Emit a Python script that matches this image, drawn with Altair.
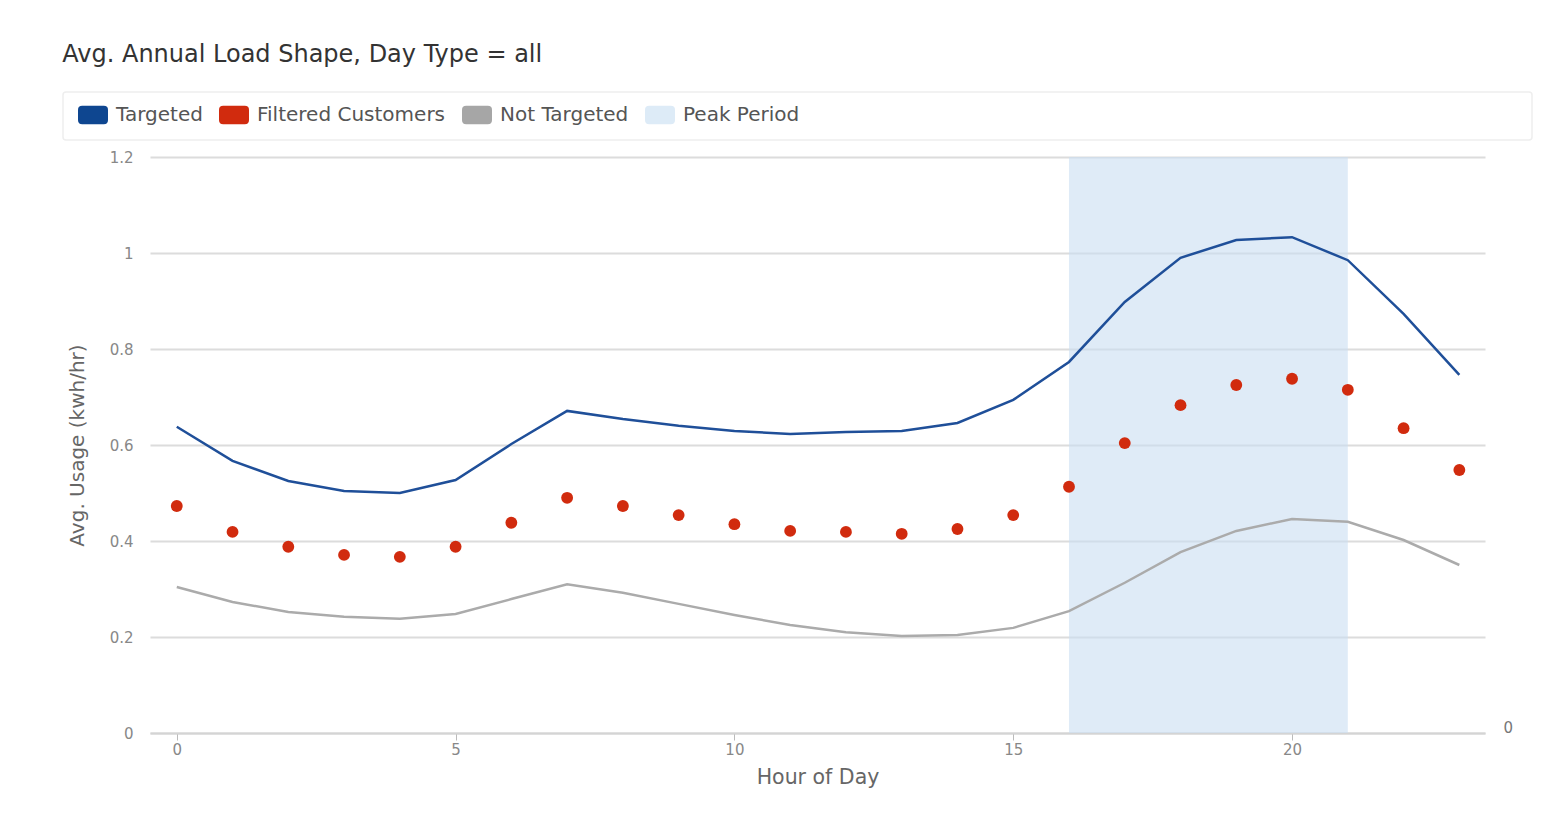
import altair as alt
import pandas as pd

hours = list(range(24))
targeted = [0.638, 0.567, 0.525, 0.504, 0.500, 0.527, 0.602, 0.671, 0.654, 0.640, 0.629, 0.623,
            0.627, 0.629, 0.646, 0.694, 0.773, 0.898, 0.990, 1.027, 1.033, 0.985, 0.873, 0.746]
filtered = [0.473, 0.419, 0.388, 0.371, 0.367, 0.388, 0.438, 0.490, 0.473, 0.454, 0.435, 0.421,
            0.419, 0.415, 0.425, 0.454, 0.513, 0.604, 0.683, 0.725, 0.738, 0.715, 0.635, 0.548]
not_targeted = [0.304, 0.273, 0.252, 0.242, 0.238, 0.248, 0.279, 0.310, 0.292, 0.269, 0.246, 0.225,
                0.210, 0.202, 0.204, 0.219, 0.254, 0.313, 0.377, 0.421, 0.446, 0.440, 0.402, 0.350]
peak_start = [16]
peak_end = [21]
series_names = ["Targeted", "Filtered Customers", "Not Targeted", "Peak Period"]
series_colors = ["#0E4690", "#D12B0E", "#A6A6A6", "#DDEBF7"]
x_ticks = [0, 5, 10, 15, 20]
y_ticks = [0, 0.2, 0.4, 0.6, 0.8, 1.0, 1.2]

FONT = "DejaVu Sans"

df = pd.DataFrame({"hour": hours, "targeted": targeted, "filtered": filtered,
                   "not_targeted": not_targeted})
peak_df = pd.DataFrame({"start": peak_start, "end": peak_end})
legend_df = pd.DataFrame({"series": series_names})
one_df = pd.DataFrame({"r": [0]})

x_scale = alt.Scale(domain=[-0.48, 23.46], nice=False, zero=False)
y_scale = alt.Scale(domain=[0, 1.2], nice=False)

x_axis = alt.Axis(values=x_ticks, title="Hour of Day", grid=False, domainColor="#D4D4D4",
                  domainWidth=2, tickColor="#BBBBBB", tickSize=7, labelFontSize=15,
                  labelColor="#888888", labelFont=FONT, labelPadding=2, titleFont=FONT,
                  titleFontSize=20.5, titleColor="#666666", titleFontWeight="normal",
                  titlePadding=10)
y_axis = alt.Axis(values=y_ticks, title="Avg. Usage (kwh/hr)", grid=True, gridColor="#DCDCDC",
                  gridWidth=2, domain=False, ticks=False, labelFontSize=15, labelColor="#888888",
                  labelFont=FONT, labelPadding=17, titleFont=FONT, titleFontSize=20,
                  titleColor="#666666", titleFontWeight="normal", titlePadding=22, format="~g")

X = alt.X("hour:Q", scale=x_scale, axis=x_axis)

peak = alt.Chart(peak_df).mark_rect(fill="#CADEF2", opacity=0.6).encode(
    x=alt.X("start:Q", scale=x_scale, axis=x_axis),
    x2="end:Q",
    y=alt.Y(datum=1.2, type="quantitative", scale=y_scale, axis=y_axis),
    y2=alt.Y2(datum=0),
)

gray_line = alt.Chart(df).mark_line(color="#ABABAB", strokeWidth=2.5).encode(
    x=X, y=alt.Y("not_targeted:Q", scale=y_scale, axis=y_axis)
)
blue_line = alt.Chart(df).mark_line(color="#1F4F99", strokeWidth=2.5).encode(
    x=X, y=alt.Y("targeted:Q", scale=y_scale, axis=y_axis)
)
red_dots = alt.Chart(df).mark_circle(color="#D12B0E", opacity=1, size=140).encode(
    x=X, y=alt.Y("filtered:Q", scale=y_scale, axis=y_axis)
)

legend_box = alt.Chart(one_df).mark_rect(fill="white", stroke="#EEEEEE", strokeWidth=1.5,
                                         cornerRadius=3).encode(
    x=alt.value(-87), x2=alt.value(1382), y=alt.value(-65), y2=alt.value(-17)
)

rounded = ("M-0.72,-0.62 L0.72,-0.62 Q1,-0.62 1,-0.34 L1,0.34 Q1,0.62 0.72,0.62 "
           "L-0.72,0.62 Q-1,0.62 -1,0.34 L-1,-0.34 Q-1,-0.62 -0.72,-0.62 Z")

legend_layer = alt.Chart(legend_df).mark_point(filled=True, opacity=0, size=0).encode(
    fill=alt.Fill("series:N",
                  scale=alt.Scale(domain=series_names, range=series_colors),
                  legend=alt.Legend(title=None, orient="none", legendX=-72, legendY=-57,
                                    direction="horizontal", columns=4, symbolType=rounded,
                                    symbolSize=900, symbolOpacity=1, symbolStrokeWidth=0,
                                    labelFontSize=20, labelColor="#555555", labelFont=FONT,
                                    labelOffset=8, columnPadding=16, padding=0,
                                    labelLimit=400))
)

main = alt.layer(peak, gray_line, blue_line, red_dots, legend_box, legend_layer)

right_axis = alt.Chart(one_df).mark_point(opacity=0).encode(
    y=alt.Y("r:Q", scale=y_scale,
            axis=alt.Axis(orient="right", values=[0], grid=False, domain=False, ticks=False,
                          title=None, labelFontSize=15, labelColor="#777777", labelFont=FONT,
                          labelPadding=18, labelOffset=-6))
)

chart = alt.layer(main, right_axis).resolve_scale(y="independent").properties(
    width=1335, height=576,
    autosize=alt.AutoSizeParams(type="none"),
    padding={"left": 142, "top": 149, "right": 60, "bottom": 70},
    title=alt.TitleParams("Avg. Annual Load Shape, Day Type = all", anchor="start",
                          font=FONT, fontSize=24, fontWeight="normal", color="#333333",
                          offset=24),
).configure_view(stroke=None)

chart.save("out.html", embed_options={"renderer": "svg", "actions": False})
